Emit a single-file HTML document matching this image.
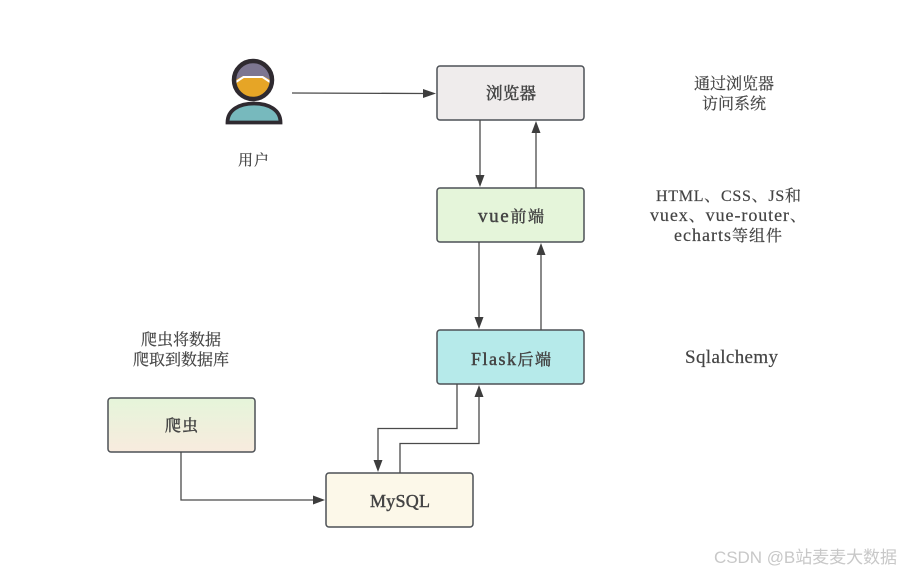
<!DOCTYPE html>
<html><head><meta charset="utf-8">
<style>
html,body{margin:0;padding:0;background:#fff;width:901px;height:573px;overflow:hidden}
svg{display:block}
text{font-family:"Liberation Serif","Noto Serif CJK SC",serif;fill:#444;stroke:#444;stroke-width:.2px;font-size:16px}
.s{stroke-width:.45px}
.b{stroke:#4d5156;stroke-width:1.5}
.l{stroke:#4a4a4a;stroke-width:1.3;fill:none}
.a{fill:#3d3d3d}
</style></head><body>
<svg width="901" height="573" viewBox="0 0 901 573" xmlns="http://www.w3.org/2000/svg">
<defs><linearGradient id="g" x1="0" y1="0" x2="0" y2="1"><stop offset="0" stop-color="#e5f5da"/><stop offset="1" stop-color="#f8ebde"/></linearGradient></defs>

<rect class="b" x="437" y="66" width="147" height="54" rx="3" fill="#efecec"/>
<rect class="b" x="437" y="188" width="147" height="54" rx="3" fill="#e5f5da"/>
<rect class="b" x="437" y="330" width="147" height="54" rx="3" fill="#b6eaea"/>
<rect class="b" x="108" y="398" width="147" height="54" rx="3" fill="url(#g)"/>
<rect class="b" x="326" y="473" width="147" height="54" rx="3" fill="#fcf8e9"/>

<path class="l" d="M292 93L424 93.500"/><path class="a" d="M436 93.500L423 89V98Z"/>
<path class="l" d="M480 120V176"/><path class="a" d="M480 187L475.500 175H484.500Z"/>
<path class="l" d="M536 188V132"/><path class="a" d="M536 121L531.500 133H540.500Z"/>
<path class="l" d="M479 242V318"/><path class="a" d="M479 329L474.500 317H483.500Z"/>
<path class="l" d="M541 330V254"/><path class="a" d="M541 243L536.500 255H545.500Z"/>
<path class="l" d="M457 384V428.500H378V461"/><path class="a" d="M378 472L373.500 460H382.500Z"/>
<path class="l" d="M400 473V443.500H479V396"/><path class="a" d="M479 385L474.500 397H483.500Z"/>
<path class="l" d="M181 452V500H314"/><path class="a" d="M325 500L313 495.500V504.500Z"/>

<circle cx="253" cy="80" r="18.500" fill="#e6a526"/>
<path d="M235.500 80L243 76H263L270.500 80A17.500 17.500 0 0 0 235.500 80Z" fill="#7d7691"/>
<path d="M236 82L243.500 77H262.500L270 82" fill="none" stroke="#fff" stroke-width="2"/>
<circle cx="253" cy="80" r="19" fill="none" stroke="#2f2a30" stroke-width="4.500"/>
<path d="M227.500 122.500C227.500 110 239 103.500 254 103.500C269 103.500 280.500 110 280.500 122.500Z" fill="#77b9bd" stroke="#2f2a30" stroke-width="3.800"/>

<text x="238" y="165" textLength="31" style="font-size:15px">用户</text>
<text class="s" x="486" y="99" textLength="50" style="font-size:16.500px">浏览器</text>
<text class="s" x="478" y="222" textLength="66"><tspan style="font-size:19px">vue</tspan>前端</text>
<text class="s" x="471" y="365" textLength="80"><tspan style="font-size:18px">Flask</tspan>后端</text>
<text class="s" x="165" y="431" textLength="33">爬虫</text>
<text class="s" x="370" y="507" textLength="60" style="font-size:18px">MySQL</text>
<text x="694" y="89" textLength="80">通过浏览器</text>
<text x="702" y="109" textLength="64">访问系统</text>
<text x="656" y="201" textLength="145">HTML、CSS、JS和</text>
<text x="650" y="221" textLength="156"><tspan style="font-size:18px">vuex</tspan>、<tspan style="font-size:18px">vue-router</tspan>、</text>
<text x="674" y="241" textLength="108"><tspan style="font-size:18px">echarts</tspan>等组件</text>
<text x="685" y="363" textLength="93" style="font-size:19px">Sqlalchemy</text>
<text x="141" y="345" textLength="80">爬虫将数据</text>
<text x="133" y="365" textLength="96">爬取到数据库</text>
<text x="714" y="563" textLength="183" style="font-family:'Liberation Sans','Noto Sans CJK SC',sans-serif;fill:#c8c8c8;stroke:none;font-size:17px">CSDN @B站麦麦大数据</text>
</svg>
</body></html>
